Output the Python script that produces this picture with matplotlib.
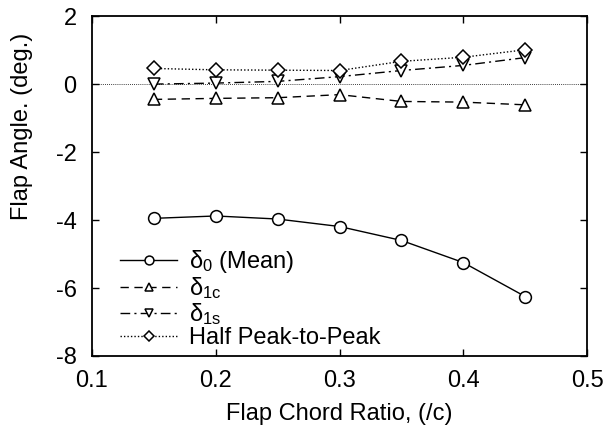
import matplotlib
matplotlib.use("Agg")
import matplotlib.pyplot as plt

plt.rcParams['font.family'] = ['Liberation Sans', 'DejaVu Sans']
plt.rcParams['mathtext.fontset'] = 'custom'
plt.rcParams['mathtext.rm'] = 'Liberation Sans'
plt.rcParams['mathtext.it'] = 'Liberation Sans'
plt.rcParams['axes.unicode_minus'] = False
plt.rcParams['font.size'] = 17

# data
chord_ratio = [0.15, 0.20, 0.25, 0.30, 0.35, 0.40, 0.45]
delta0 = [-3.95, -3.88, -3.97, -4.19, -4.60, -5.25, -6.25]
delta1c = [-0.45, -0.42, -0.40, -0.31, -0.51, -0.53, -0.61]
delta1s = [0.0, 0.03, 0.08, 0.22, 0.40, 0.55, 0.78]
half_p2p = [0.46, 0.42, 0.41, 0.40, 0.67, 0.79, 1.01]

fig = plt.figure(figsize=(6.09, 4.36), dpi=100)
ax = fig.add_axes([0.151, 0.1835, 0.813, 0.7795])

ax.axhline(0, color='black', lw=0.6, ls=(0, (1, 1.5)))

mk = dict(markerfacecolor='white', markeredgecolor='black', markeredgewidth=1.1,
          color='black', lw=1.0)
ax.plot(chord_ratio, delta0, marker='o', ms=8.5, ls='-', label=r'$\delta_0$ (Mean)', **mk)
ax.plot(chord_ratio, delta1c, marker='^', ms=8.5, ls=(0, (6, 4)), label=r'$\delta_{1c}$', **mk)
ax.plot(chord_ratio, delta1s, marker='v', ms=8.5, ls=(0, (7, 3, 1.5, 3)), label=r'$\delta_{1s}$', **mk)
ax.plot(chord_ratio, half_p2p, marker='D', ms=7, ls=(0, (1, 1.5)), label='Half Peak-to-Peak', **mk)

ax.set_xlim(0.1, 0.5)
ax.set_ylim(-8, 2)
ax.set_xticks([0.1, 0.2, 0.3, 0.4, 0.5])
ax.set_yticks([-8, -6, -4, -2, 0, 2])
ax.tick_params(direction='in', top=True, right=True, length=5, width=1.0)
ax.tick_params(axis='x', pad=10)
ax.tick_params(axis='y', pad=11)
for s in ax.spines.values():
    s.set_linewidth(1.3)

ax.set_xlabel('Flap Chord Ratio, (/c)', labelpad=8)
ax.set_ylabel('Flap Angle. (deg.)')
ax.yaxis.set_label_coords(-0.119, 0.675)

ax.legend(loc='lower left', bbox_to_anchor=(0.057, 0.02), frameon=False,
          borderpad=0, borderaxespad=0, handlelength=2.4, handletextpad=0.5,
          labelspacing=0.0, markerscale=0.75)

fig.savefig('out.png', dpi=100)
